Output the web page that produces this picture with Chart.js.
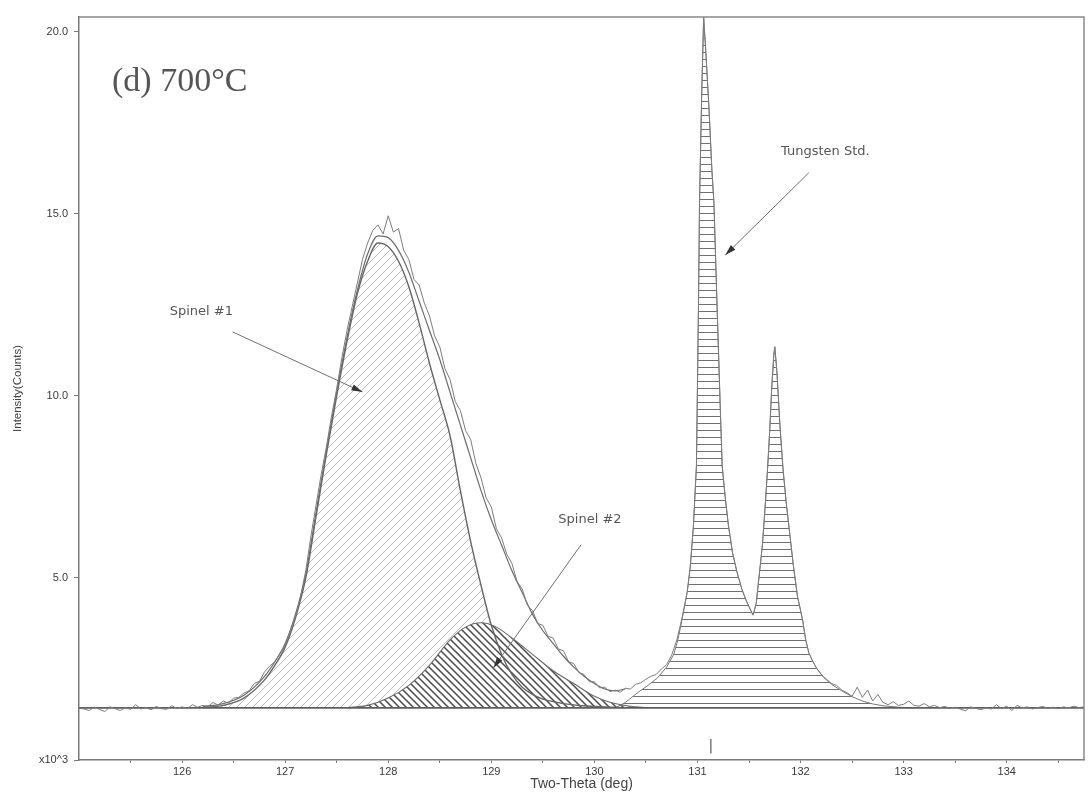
<!DOCTYPE html>
<html>
<head>
<meta charset="utf-8">
<script src="https://cdn.jsdelivr.net/npm/chart.js@4.4.1/dist/chart.umd.min.js"></script>
<style>
  html, body { margin: 0; padding: 0; background: #fff; }
  #wrap { width: 1089px; height: 795px; }
</style>
</head>
<body>
<div id="wrap"><canvas id="chart" width="1089" height="795"></canvas></div>
<script>
// axis ranges and ticks (x10^3 counts on y)
const xMin = 125, xMax = 134.75;
const yMin = 0, yMax = 20.41;
const xTicks = [125.5, 126, 126.5, 127, 127.5, 128, 128.5, 129, 129.5, 130, 130.5, 131, 131.5, 132, 132.5, 133, 133.5, 134, 134.5];
const yTicks = [0, 5, 10, 15, 20];
const baseline = 1.43;

// measured pattern (noisy trace)
const obsX = [125.00,125.05,125.10,125.15,125.20,125.25,125.30,125.35,125.40,125.45,125.50,125.55,125.60,125.65,125.70,125.75,125.80,125.85,125.90,125.95,
  126.00,126.05,126.10,126.15,126.20,126.25,126.30,126.35,126.40,126.45,126.50,126.55,126.60,126.65,126.70,126.75,126.80,126.85,126.90,126.95,
  127.00,127.05,127.10,127.15,127.20,127.25,127.30,127.35,127.40,127.45,127.50,127.55,127.60,127.65,127.70,127.75,127.80,127.85,127.90,127.95,
  128.00,128.05,128.10,128.15,128.20,128.25,128.30,128.35,128.40,128.45,128.50,128.55,128.60,128.65,128.70,128.75,128.80,128.85,128.90,128.95,
  129.00,129.05,129.10,129.15,129.20,129.25,129.30,129.35,129.40,129.45,129.50,129.55,129.60,129.65,129.70,129.75,129.80,129.85,129.90,129.95,
  130.00,130.05,130.10,130.15,130.20,130.25,130.30,130.35,130.40,130.45,130.50,130.55,130.60,130.65,130.70,130.75,130.80,130.85,130.90,130.93,
  130.96,130.99,131.01,131.02,131.04,131.06,131.08,131.11,131.14,131.16,131.19,131.22,131.24,131.27,131.30,131.34,131.38,131.43,131.47,131.51,
  131.54,131.57,131.60,131.63,131.66,131.68,131.70,131.72,131.74,131.75,131.77,131.80,131.83,131.86,131.90,131.93,131.97,132.02,132.05,132.08,
  132.12,132.16,132.22,132.30,132.35,132.40,132.45,132.50,132.55,132.60,132.65,132.70,132.75,132.80,132.85,132.90,132.95,133.00,133.05,133.10,
  133.15,133.20,133.25,133.30,133.35,133.40,133.45,133.50,133.55,133.60,133.65,133.70,133.75,133.80,133.85,133.90,133.95,134.00,134.05,134.10,
  134.15,134.20,134.25,134.30,134.35,134.40,134.45,134.50,134.55,134.60,134.65,134.70,134.75];
const obsY = [1.42,1.40,1.36,1.45,1.39,1.33,1.46,1.41,1.36,1.44,1.39,1.52,1.40,1.44,1.38,1.47,1.41,1.39,1.49,1.42,
  1.46,1.41,1.52,1.45,1.50,1.47,1.58,1.51,1.62,1.56,1.70,1.72,1.84,1.90,2.10,2.16,2.42,2.58,2.70,2.92,
  3.15,3.55,3.95,4.50,5.20,6.15,7.00,7.85,8.60,9.45,10.20,11.05,11.80,12.45,13.10,13.75,14.20,14.55,14.70,14.45,
  14.95,14.50,14.60,14.00,13.75,13.20,13.05,12.55,12.20,11.65,11.35,10.75,10.45,9.85,9.60,9.05,8.80,8.15,7.75,7.20,
  6.95,6.35,6.10,5.65,5.40,4.90,4.70,4.25,4.10,3.75,3.70,3.40,3.35,3.05,3.00,2.70,2.65,2.40,2.35,2.15,
  2.15,1.98,2.00,1.88,1.92,1.86,1.97,1.95,2.08,2.12,2.22,2.30,2.35,2.50,2.62,2.88,3.30,3.90,4.60,5.30,
  6.40,8.10,12.50,15.30,18.20,20.40,19.50,18.00,16.20,15.30,12.50,9.80,8.10,7.20,6.45,5.70,5.20,4.70,4.40,4.15,
  3.98,4.30,5.10,5.90,7.10,8.00,9.00,10.20,11.10,11.35,10.70,9.20,8.00,7.10,6.10,5.35,4.50,3.85,3.30,2.95,
  2.70,2.50,2.30,2.10,2.05,1.92,1.85,1.75,2.00,1.72,1.92,1.62,1.80,1.58,1.52,1.60,1.50,1.53,1.62,1.50,
  1.48,1.55,1.46,1.50,1.44,1.47,1.42,1.45,1.40,1.35,1.46,1.42,1.38,1.44,1.40,1.52,1.41,1.48,1.36,1.50,
  1.43,1.46,1.40,1.44,1.47,1.42,1.45,1.41,1.46,1.43,1.48,1.44,1.46];

// overall fitted profile over the spinel region
const fitX = [126.2,126.4,126.6,126.8,126.9,127.0,127.1,127.2,127.3,127.4,127.5,127.6,127.7,127.8,127.9,128.0,128.1,128.2,128.3,128.4,
  128.5,128.6,128.7,128.8,128.9,129.0,129.1,129.2,129.3,129.4,129.5,129.6,129.7,129.8,129.9,130.0,130.1,130.2,130.3];
const fitY = [1.47,1.55,1.78,2.30,2.70,3.20,4.00,5.10,6.80,8.50,10.10,11.60,12.90,13.90,14.40,14.35,14.00,13.40,12.60,11.80,
  11.00,10.10,9.20,8.30,7.40,6.60,5.90,5.20,4.60,4.00,3.55,3.20,2.85,2.55,2.30,2.10,1.95,1.90,1.95];

// Spinel #1 component
const s1X = [126.2,126.4,126.6,126.8,126.9,127.0,127.1,127.2,127.3,127.4,127.5,127.6,127.7,127.8,127.9,128.0,128.1,128.2,128.3,128.4,
  128.5,128.6,128.7,128.8,128.9,129.0,129.1,129.2,129.3,129.4,129.5,129.7,129.9,130.1,130.3];
const s1Y = [1.44,1.50,1.70,2.20,2.60,3.10,3.90,5.00,6.70,8.40,10.00,11.50,12.80,13.70,14.20,14.10,13.70,13.00,12.00,10.90,
  9.90,8.90,7.40,6.00,4.80,3.70,2.90,2.35,2.00,1.80,1.67,1.55,1.49,1.46,1.44];

// Spinel #2 component
const s2X = [127.6,127.8,128.0,128.2,128.4,128.6,128.75,128.9,129.05,129.2,129.4,129.6,129.8,130.0,130.2,130.4,130.5];
const s2Y = [1.44,1.50,1.70,2.05,2.60,3.30,3.65,3.77,3.65,3.35,2.90,2.45,2.10,1.75,1.55,1.46,1.44];

// Tungsten standard doublet
const wX = [130.20,130.30,130.42,130.52,130.61,130.70,130.77,130.81,130.85,130.90,130.93,130.96,130.99,131.01,131.02,131.04,131.06,131.08,131.11,131.14,
  131.16,131.19,131.22,131.24,131.27,131.30,131.34,131.38,131.43,131.47,131.51,131.54,131.57,131.60,131.63,131.66,131.68,131.70,131.72,131.74,
  131.75,131.77,131.80,131.83,131.86,131.90,131.93,131.97,132.02,132.05,132.08,132.12,132.16,132.22,132.30,132.40,132.50,132.60,132.70,132.80,
  132.95,133.10];
const wY = [1.43,1.58,1.85,2.05,2.25,2.55,2.90,3.30,3.85,4.60,5.30,6.40,8.05,12.50,15.30,18.10,20.40,19.50,18.00,16.20,
  15.30,12.50,9.80,8.05,7.20,6.45,5.70,5.20,4.70,4.40,4.15,3.98,4.30,5.10,5.90,7.10,8.00,9.00,10.20,11.10,
  11.35,10.70,9.20,8.00,7.10,6.10,5.35,4.50,3.85,3.30,2.95,2.70,2.50,2.28,2.08,1.90,1.74,1.62,1.54,1.49,
  1.45,1.43];

// peak position marker under the tungsten line
const markerX = [131.13, 131.13];
const markerY = [0.18, 0.58];

// labels and arrows, in data units
const notes = [
  { text: 'Spinel #1', x: 125.88, y: 12.31, from: [126.49, 11.76], to: [127.75, 10.11] },
  { text: 'Spinel #2', x: 129.65, y: 6.59, from: [129.87, 5.91], to: [129.02, 2.53] },
  { text: 'Tungsten Std.', x: 131.81, y: 16.7, from: [132.08, 16.13], to: [131.27, 13.87] }
];
const panelTitle = { text: '(d) 700\u00B0C', x: 125.32, y: 18.38 };

function pts(xs, ys) { return xs.map((x, i) => ({ x: x, y: ys[i] })); }

function hatch(kind, size, color, width, bg) {
  const c = document.createElement('canvas');
  c.width = size; c.height = size;
  const g = c.getContext('2d');
  if (bg) { g.fillStyle = bg; g.fillRect(0, 0, size, size); }
  g.strokeStyle = color;
  g.lineWidth = width;
  g.beginPath();
  if (kind === '/') {
    g.moveTo(0, size); g.lineTo(size, 0);
    g.moveTo(-2, 2); g.lineTo(2, -2);
    g.moveTo(size - 2, size + 2); g.lineTo(size + 2, size - 2);
  } else if (kind === '\\') {
    g.moveTo(0, 0); g.lineTo(size, size);
    g.moveTo(-2, size - 2); g.lineTo(2, size + 2);
    g.moveTo(size - 2, -2); g.lineTo(size + 2, 2);
  } else {
    g.moveTo(0, size / 2); g.lineTo(size, size / 2);
  }
  g.stroke();
  return g.createPattern(c, 'repeat');
}

const ctx = document.getElementById('chart').getContext('2d');

const frame = {
  id: 'frame',
  afterDraw(chart) {
    const a = chart.chartArea, c = chart.ctx;
    c.save();
    c.strokeStyle = '#8a8a8a';
    c.lineWidth = 1.5;
    c.beginPath();
    c.moveTo(a.left, a.top); c.lineTo(a.right, a.top); c.lineTo(a.right, a.bottom);
    c.stroke();
    c.restore();
  }
};

const labels = {
  id: 'labels',
  afterDraw(chart) {
    const xs = chart.scales.x, ys = chart.scales.y, c = chart.ctx;
    c.save();
    c.fillStyle = '#555';
    c.font = '34px "Liberation Serif", "Times New Roman", serif';
    c.textBaseline = 'alphabetic';
    c.fillText(panelTitle.text, xs.getPixelForValue(panelTitle.x), ys.getPixelForValue(panelTitle.y));

    c.font = '13px "DejaVu Sans", sans-serif';
    c.textBaseline = 'middle';
    notes.forEach(n => {
      c.fillStyle = '#555';
      c.fillText(n.text, xs.getPixelForValue(n.x), ys.getPixelForValue(n.y));
      const x1 = xs.getPixelForValue(n.from[0]), y1 = ys.getPixelForValue(n.from[1]);
      const x2 = xs.getPixelForValue(n.to[0]), y2 = ys.getPixelForValue(n.to[1]);
      const ang = Math.atan2(y2 - y1, x2 - x1);
      c.strokeStyle = '#6f6f6f';
      c.lineWidth = 1;
      c.beginPath(); c.moveTo(x1, y1); c.lineTo(x2, y2); c.stroke();
      c.fillStyle = '#333';
      c.beginPath();
      c.moveTo(x2, y2);
      c.lineTo(x2 - 11 * Math.cos(ang) + 3.2 * Math.sin(ang), y2 - 11 * Math.sin(ang) - 3.2 * Math.cos(ang));
      c.lineTo(x2 - 11 * Math.cos(ang) - 3.2 * Math.sin(ang), y2 - 11 * Math.sin(ang) + 3.2 * Math.cos(ang));
      c.closePath(); c.fill();
    });
    c.restore();
  }
};

const chart = new Chart(ctx, {
  type: 'scatter',
  data: {
    datasets: [
      { data: pts(obsX, obsY), showLine: true, borderColor: '#7c7c7c', borderWidth: 1, pointRadius: 0, tension: 0, order: 0 },
      { data: pts(fitX, fitY), showLine: true, borderColor: '#6c6c6c', borderWidth: 1.2, pointRadius: 0, cubicInterpolationMode: 'monotone', order: 1 },
      { data: pts(markerX, markerY), showLine: true, borderColor: '#666', borderWidth: 1.3, pointRadius: 0, order: 1 },
      { data: pts([xMin, xMax], [baseline, baseline]), showLine: true, borderColor: '#5e5e5e', borderWidth: 1.8, pointRadius: 0, order: 2 },
      { data: pts(wX, wY), showLine: true, borderColor: '#777', borderWidth: 1, pointRadius: 0, tension: 0,
        fill: { value: baseline }, backgroundColor: hatch('-', 7, '#707070', 1, null), order: 3 },
      { data: pts(s1X, s1Y), showLine: true, borderColor: '#666', borderWidth: 1.4, pointRadius: 0, cubicInterpolationMode: 'monotone', order: 4 },
      { data: pts(s2X, s2Y), showLine: true, borderColor: '#6a6a6a', borderWidth: 1.1, pointRadius: 0, cubicInterpolationMode: 'monotone',
        fill: { value: baseline }, backgroundColor: hatch('\\', 7, '#4a4a4a', 1.5, '#ffffff'), order: 5 },
      { data: pts(s1X, s1Y), showLine: true, borderColor: 'rgba(0,0,0,0)', borderWidth: 0, pointRadius: 0, cubicInterpolationMode: 'monotone',
        fill: { value: baseline }, backgroundColor: hatch('/', 8, '#bdbdbd', 1, null), order: 6 }
    ]
  },
  options: {
    responsive: false,
    animation: false,
    layout: { padding: { top: 17, right: 5, left: 0, bottom: 0 } },
    plugins: { legend: { display: false }, tooltip: { enabled: false } },
    scales: {
      x: {
        type: 'linear', min: xMin, max: xMax,
        afterFit: s => { s.height = 35; },
        afterBuildTicks: s => { s.ticks = xTicks.map(v => ({ value: v })); },
        ticks: {
          autoSkip: false, maxRotation: 0, padding: 2, color: '#3a3a3a',
          font: { family: '"Liberation Sans", Arial, sans-serif', size: 11 },
          callback: v => Number.isInteger(v) ? String(v) : ''
        },
        grid: { drawOnChartArea: false, tickLength: 3, color: '#777' },
        border: { color: '#7a7a7a', width: 1.5 },
        title: { display: true, text: 'Two-Theta (deg)', color: '#444', padding: { top: 0, bottom: 2 },
          font: { family: '"Liberation Sans", Arial, sans-serif', size: 14 } }
      },
      y: {
        min: yMin, max: yMax,
        afterFit: s => { s.width = 79; },
        afterBuildTicks: s => { s.ticks = yTicks.map(v => ({ value: v })); },
        ticks: {
          padding: 6, color: '#3a3a3a',
          font: { family: '"Liberation Sans", Arial, sans-serif', size: 11 },
          callback: v => v === 0 ? 'x10^3' : v.toFixed(1)
        },
        grid: { drawOnChartArea: false, tickLength: 5, color: '#777' },
        border: { color: '#7a7a7a', width: 1.5 },
        title: { display: true, text: 'Intensity(Counts)', color: '#444', padding: { top: 11, bottom: 0 },
          font: { family: '"Liberation Sans", Arial, sans-serif', size: 11.5 } }
      }
    }
  },
  plugins: [frame, labels]
});
</script>
</body>
</html>
